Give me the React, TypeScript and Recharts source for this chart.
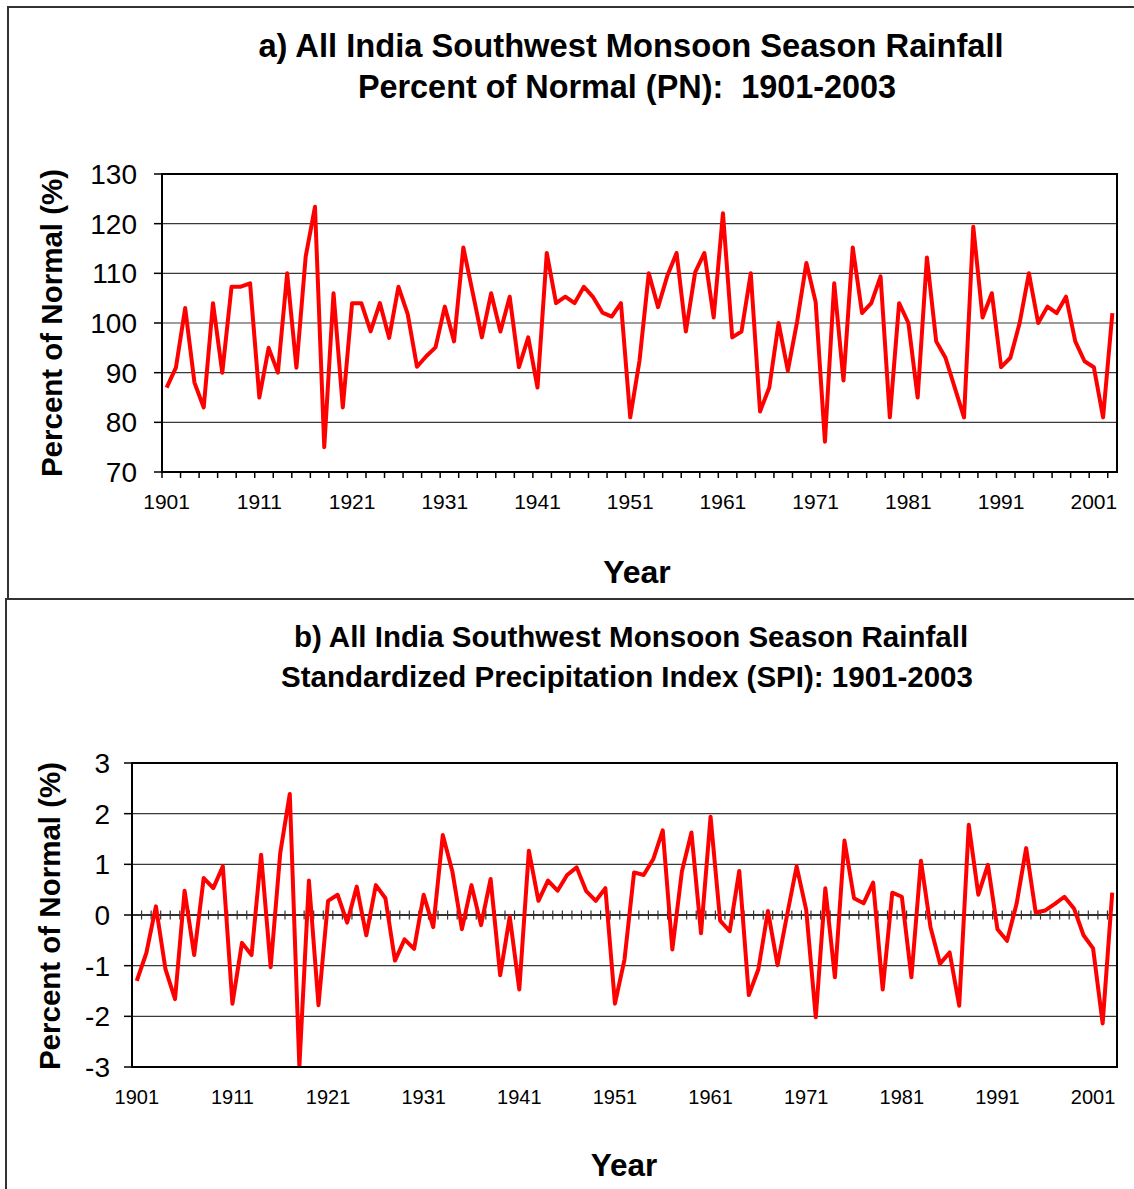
import React from "react";
import { LineChart, Line, XAxis, YAxis, CartesianGrid, ReferenceLine } from "recharts";

const FONT = '"Liberation Sans", Arial, sans-serif';

const YEARS = Array.from({ length: 103 }, (_, i) => 1901 + i);

// Percent of normal, 1901-2003
const PN_VALUES = [
  87, 91, 103, 88, 83, 104, 90, 107.3, 107.3, 108,
  85, 95, 90, 110, 91, 113.4, 123.4, 75, 106, 83,
  104, 104, 98.3, 104, 97, 107.3, 101.8, 91.2, 93.3, 95.1,
  103.3, 96.3, 115.2, 106.2, 97.1, 106, 98.3, 105.3, 91.1, 97.1,
  87, 114.1, 104, 105.3, 104, 107.3, 105.2, 102.1, 101.3, 104,
  81, 92.4, 110, 103.2, 109.5, 114.1, 98.3, 110.2, 114.1, 101.1,
  122.1, 97.1, 98.3, 110, 82.2, 87, 100, 90.4, 100.3, 112.1,
  104.2, 76.1, 108, 88.4, 115.2, 102, 104, 109.4, 81, 104,
  100, 85, 113.2, 96.3, 93, 87, 81, 119.4, 101.1, 106,
  91.1, 93, 100, 110, 100, 103.3, 102, 105.3, 96.3, 92.3,
  91.1, 81, 102,
];

// Standardized precipitation index, 1901-2003
const SPI_VALUES = [
  -1.3, -0.75, 0.17, -1.07, -1.66, 0.48, -0.79, 0.73, 0.53, 0.96,
  -1.75, -0.55, -0.79, 1.19, -1.03, 1.22, 2.39, -3.0, 0.68, -1.78,
  0.28, 0.4, -0.15, 0.56, -0.4, 0.59, 0.33, -0.9, -0.48, -0.67,
  0.4, -0.24, 1.58, 0.86, -0.28, 0.59, -0.2, 0.71, -1.19, -0.03,
  -1.47, 1.27, 0.28, 0.68, 0.48, 0.79, 0.94, 0.47, 0.28, 0.53,
  -1.75, -0.88, 0.84, 0.79, 1.1, 1.67, -0.68, 0.86, 1.63, -0.36,
  1.94, -0.11, -0.32, 0.87, -1.58, -1.07, 0.08, -0.99, 0.0, 0.96,
  0.1, -2.02, 0.53, -1.23, 1.47, 0.33, 0.23, 0.64, -1.47, 0.44,
  0.36, -1.23, 1.07, -0.24, -0.96, -0.74, -1.79, 1.78, 0.4, 0.99,
  -0.28, -0.51, 0.22, 1.32, 0.05, 0.09, 0.22, 0.36, 0.13, -0.4,
  -0.66, -2.14, 0.44,
];

const X_LABELS = [1901, 1911, 1921, 1931, 1941, 1951, 1961, 1971, 1981, 1991, 2001];
const PN_TICKS = [70, 80, 90, 100, 110, 120, 130];
const SPI_TICKS = [-3, -2, -1, 0, 1, 2, 3];

const pnData = YEARS.map((year, i) => ({ year, value: PN_VALUES[i] }));
const spiData = YEARS.map((year, i) => ({ year, value: SPI_VALUES[i] }));

// tick marks fall on category boundaries
const pnTickMarks = Array.from({ length: 52 }, (_, k) => 1900.5 + 2 * k);
const spiTickMarks = Array.from({ length: 102 }, (_, k) => 1901.5 + k);

const makeYearTick = (fontSize: number) => (props: any) => {
  const { x, y, payload } = props;
  const v = payload.value;
  if (Number.isInteger(v)) {
    return (
      <text x={x} y={y + 30} dy="0.355em" textAnchor="middle" fontSize={fontSize} fontFamily={FONT} fill="#000">
        {v}
      </text>
    );
  }
  return <line x1={x} x2={x} y1={y} y2={y + 6} stroke="#000" strokeWidth={1.5} />;
};
const TopYearTick = makeYearTick(21);
const BottomYearTick = makeYearTick(20);

const centered = (cx: number, cy: number, size: number, rotate = false): React.CSSProperties => ({
  position: "absolute",
  left: cx,
  top: cy,
  transform: rotate ? "translate(-50%, -50%) rotate(-90deg)" : "translate(-50%, -50%)",
  fontFamily: FONT,
  fontWeight: "bold",
  fontSize: size,
  lineHeight: `${size}px`,
  whiteSpace: "pre",
  color: "#000",
});

const line = (s: React.CSSProperties): React.CSSProperties => ({
  position: "absolute",
  background: "#333",
  ...s,
});

const plotBox = (l: number, t: number, r: number, b: number): React.CSSProperties => ({
  position: "absolute",
  left: l - 1,
  top: t - 1,
  width: r - l + 2,
  height: b - t + 2,
  border: "2px solid #000",
  boxSizing: "border-box",
  pointerEvents: "none",
});

export default function App() {
  return (
    <div style={{ position: "absolute", left: 0, top: 0, width: 1134, height: 1189, background: "#fff", overflow: "hidden" }}>
      {/* panel frames */}
      <div style={line({ left: 7, top: 6, width: 1127, height: 1.5 })} />
      <div style={line({ left: 7, top: 6, width: 1.5, height: 593 })} />
      <div style={line({ left: 5, top: 598, width: 1129, height: 2 })} />
      <div style={line({ left: 5, top: 598, width: 2, height: 591 })} />

      {/* panel a */}
      <div style={centered(631, 46, 32.7)}>a) All India Southwest Monsoon Season Rainfall</div>
      <div style={centered(627, 87, 32.4)}>Percent of Normal (PN):  1901-2003</div>
      <div style={centered(52, 323, 29.5, true)}>Percent of Normal (%)</div>
      <div style={centered(637, 572, 32)}>Year</div>

      <div style={{ position: "absolute", left: 0, top: 0 }}>
        <LineChart width={1134} height={600} data={pnData} margin={{ top: 174, right: 17, bottom: 98, left: 0 }}>
          <CartesianGrid vertical={false} stroke="#3a3a3a" strokeWidth={1.2} />
          <XAxis
            dataKey="year"
            type="number"
            domain={[1900.5, 2003.5]}
            allowDataOverflow
            ticks={[...X_LABELS, ...pnTickMarks]}
            interval={0}
            tickLine={false}
            axisLine={false}
            tickSize={0}
            tickMargin={0}
            height={30}
            tick={<TopYearTick />}
          />
          <YAxis
            type="number"
            domain={[70, 130]}
            allowDataOverflow
            ticks={PN_TICKS}
            interval={0}
            width={162}
            tickSize={8}
            tickMargin={17}
            axisLine={{ stroke: "#000", strokeWidth: 2 }}
            tickLine={{ stroke: "#000", strokeWidth: 1.5 }}
            tick={{ fontSize: 28, fill: "#000", fontFamily: FONT }}
          />
          <Line
            type="linear"
            dataKey="value"
            stroke="#ff0000"
            strokeWidth={4}
            strokeLinejoin="round"
            dot={false}
            isAnimationActive={false}
          />
        </LineChart>
      </div>
      <div style={plotBox(162, 174, 1117, 472)} />

      {/* panel b */}
      <div style={centered(631, 637, 29.5)}>b) All India Southwest Monsoon Season Rainfall</div>
      <div style={centered(627, 677, 29.5)}>Standardized Precipitation Index (SPI): 1901-2003</div>
      <div style={centered(50, 916, 29.5, true)}>Percent of Normal (%)</div>
      <div style={centered(624, 1166, 31.5)}>Year</div>

      <div style={{ position: "absolute", left: 0, top: 600 }}>
        <LineChart width={1134} height={589} data={spiData} margin={{ top: 163, right: 17, bottom: 92, left: 0 }}>
          <CartesianGrid vertical={false} stroke="#3a3a3a" strokeWidth={1.2} />
          <XAxis
            dataKey="year"
            type="number"
            domain={[1900.5, 2003.5]}
            allowDataOverflow
            ticks={X_LABELS}
            interval={0}
            tickLine={false}
            axisLine={false}
            tickSize={0}
            tickMargin={0}
            height={30}
            tick={<BottomYearTick />}
          />
          <YAxis
            type="number"
            domain={[-3, 3]}
            allowDataOverflow
            ticks={SPI_TICKS}
            interval={0}
            width={132}
            tickSize={8}
            tickMargin={14}
            axisLine={{ stroke: "#000", strokeWidth: 2 }}
            tickLine={{ stroke: "#000", strokeWidth: 1.5 }}
            tick={{ fontSize: 28, fill: "#000", fontFamily: FONT }}
          />
          <ReferenceLine y={0} stroke="#111" strokeWidth={1.5} />
          {spiTickMarks.map((b) => (
            <ReferenceLine
              key={b}
              segment={[
                { x: b, y: -0.09 },
                { x: b, y: 0.09 },
              ]}
              stroke="#333"
              strokeWidth={1.2}
            />
          ))}
          <Line
            type="linear"
            dataKey="value"
            stroke="#ff0000"
            strokeWidth={4}
            strokeLinejoin="round"
            dot={false}
            isAnimationActive={false}
          />
        </LineChart>
      </div>
      <div style={plotBox(132, 763, 1117, 1067)} />
    </div>
  );
}
